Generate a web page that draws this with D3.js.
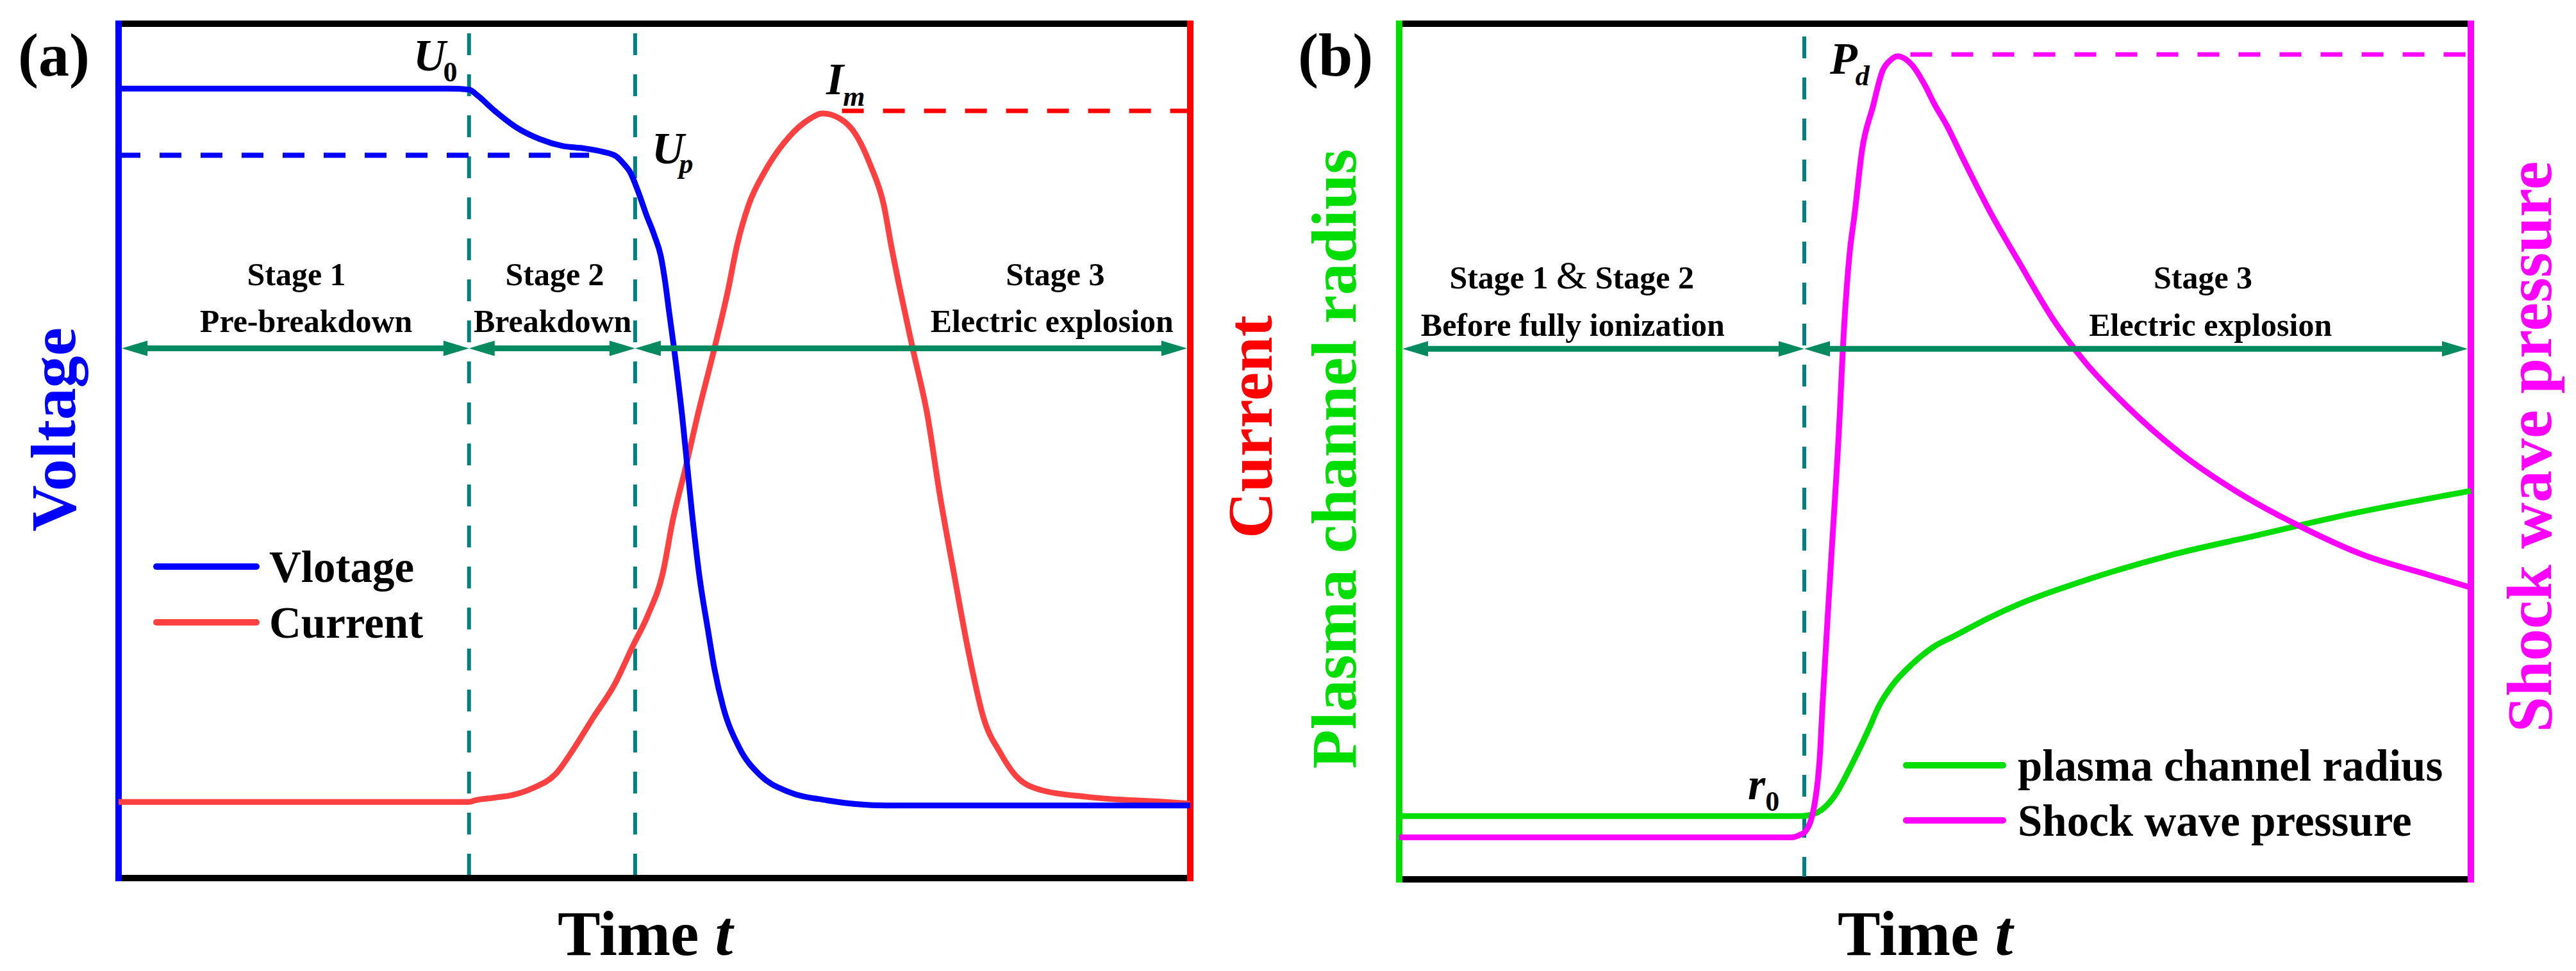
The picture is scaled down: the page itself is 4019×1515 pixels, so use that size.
<!DOCTYPE html>
<html><head><meta charset="utf-8">
<script src="https://cdn.jsdelivr.net/npm/d3@7"></script>
<style>html,body{margin:0;padding:0;background:#fff;} svg{display:block;font-family:"Liberation Serif","Times New Roman",serif;}</style>
</head><body><svg id="c" width="4019" height="1515"></svg>
<script>
// ---------- data (time and amplitude in arbitrary 0-100 units) ----------
const voltage = [[0,92.4],[30.8,92.4],[32.7,92.3],[33.4,91.7],[35.1,89.8],[37.2,87.8],[39.3,86.5],[41.4,85.7],[43.5,85.4],[45.2,85.0],[46.4,84.5],[47.2,83.5],[47.7,82.7],[48.5,80.3],[49.2,77.8],[50.0,75.2],[50.6,72.8],[51.0,69.8],[51.4,66.0],[51.8,62.3],[52.6,54.0],[53.5,42.8],[54.2,35.3],[55.0,29.0],[55.6,24.5],[56.4,20.1],[57.9,15.3],[59.9,12.0],[62.5,10.1],[66.1,9.1],[71.6,8.5],[100,8.5]];
const current = [[0,8.9],[32.7,8.9],[33.3,9.1],[35.0,9.4],[36.7,9.7],[38.6,10.5],[40.8,12.2],[42.5,15.2],[44.3,18.8],[46.3,22.7],[48.0,27.2],[49.4,30.8],[50.8,35.8],[51.7,41.8],[52.9,48.0],[54.0,54.0],[55.6,62.0],[56.9,69.0],[57.7,74.0],[58.8,78.8],[60.3,82.7],[62.6,86.8],[64.3,88.7],[65.7,89.5],[67.3,88.9],[68.7,87.2],[70.2,83.3],[71.4,78.8],[72.1,74.0],[72.9,69.0],[74.1,62.0],[75.5,54.0],[76.6,45.1],[78.0,35.3],[79.4,25.9],[80.7,18.8],[82.3,14.6],[83.7,12.0],[86.1,10.3],[90.4,9.5],[97.7,8.9],[100,8.7]];
const radius = [[0,7.4],[37.4,7.4],[38.8,7.7],[40.6,9.7],[42.3,13.6],[43.9,17.8],[44.7,20.1],[45.9,22.5],[47.9,25.2],[49.9,27.2],[51.9,28.5],[55.1,30.6],[57.9,32.2],[63.9,34.9],[72.0,37.9],[80.0,40.2],[88.0,42.5],[100,45.4]];
const pressure = [[0,4.9],[36.6,4.9],[37.4,5.2],[37.9,5.6],[38.8,9.1],[39.3,15.4],[39.5,20.4],[40.3,37.2],[41.1,54.1],[41.4,62.0],[42.0,72.8],[42.5,77.8],[43.2,85.3],[44.2,90.3],[45.1,94.5],[45.8,95.7],[46.5,96.2],[47.2,95.9],[47.9,95.1],[49.1,92.7],[49.9,90.7],[51.1,88.1],[52.7,84.0],[55.1,78.1],[57.9,72.0],[61.1,65.3],[63.9,60.6],[67.9,55.3],[72.7,50.0],[78.3,45.2],[84.0,41.3],[90.0,37.9],[96.0,35.6],[100,34.1]];

const boundsA = [0, 32.7, 48.2, 100];
const boundsB = [0, 37.8, 100];
const arrowLevel = 62.0;
const UpLevel = 84.6, UpEnd = 43.9;
const ImLevel = 89.8, ImStart = 67.5;
const PdLevel = 96.4, PdStart = 47.7;

const stageTitlesA = [["Stage 1",16.6],["Stage 2",40.7],["Stage 3",87.4]];
const stageNamesA  = [["Pre-breakdown",17.5],["Breakdown",40.5],["Electric explosion",87.1]];
const stageTitlesB = [["Stage 3",75.0]];
const stageNamesB  = [["Before fully ionization",16.2],["Electric explosion",75.7]];

const legendA = [["Vlotage","#0000FF"],["Current","#FF4040"]];
const legendB = [["plasma channel radius","#00DD00"],["Shock wave pressure","#FF00FF"]];

// ---------- drawing ----------
const svg = d3.select("#c");
const F = '"Liberation Serif","Times New Roman",serif';
const TEAL = "#008080", ARROW = "#008A5E";

const xA = d3.scaleLinear().domain([0,100]).range([185,1857]);
const yA = d3.scaleLinear().domain([0,100]).range([1370,37]);
const xB = d3.scaleLinear().domain([0,100]).range([2183,3855]);
const yB = d3.scaleLinear().domain([0,100]).range([1372,37]);

function frame(x, y, leftColor, rightColor){
  const [x0,x1] = x.range(), [y1,y0] = y.range();
  svg.append("line").attr("x1",x0-5).attr("x2",x1+5).attr("y1",y0).attr("y2",y0).attr("stroke","#000").attr("stroke-width",10);
  svg.append("line").attr("x1",x0-5).attr("x2",x1+5).attr("y1",y1).attr("y2",y1).attr("stroke","#000").attr("stroke-width",10);
  svg.append("line").attr("x1",x0).attr("x2",x0).attr("y1",y0-5).attr("y2",y1+5).attr("stroke",leftColor).attr("stroke-width",10);
  svg.append("line").attr("x1",x1).attr("x2",x1).attr("y1",y0-5).attr("y2",y1+5).attr("stroke",rightColor).attr("stroke-width",10);
}
function vdash(x, y, t, top, bottom){
  svg.append("line").attr("x1",x(t)).attr("x2",x(t)).attr("y1",top).attr("y2",bottom)
    .attr("stroke",TEAL).attr("stroke-width",6).attr("stroke-dasharray","34 30");
}
function hdash(x, y, t0, t1, v, color, w){
  svg.append("line").attr("x1",x(t0)).attr("x2",x(t1)).attr("y1",y(v)).attr("y2",y(v))
    .attr("stroke",color).attr("stroke-width",w).attr("stroke-dasharray","34 30");
}
function curve(x, y, data, color, w){
  const line = d3.line().x(d=>x(d[0])).y(d=>y(d[1])).curve(d3.curveMonotoneX);
  svg.append("path").attr("d",line(data)).attr("fill","none").attr("stroke",color)
    .attr("stroke-width",w).attr("stroke-linejoin","round");
}
function arrows(x, y, bounds){
  const yy = y(arrowLevel), L = 40, W = 12;
  for(let i=0;i<bounds.length-1;i++){
    let a = x(bounds[i]), b = x(bounds[i+1]);
    if(i===0) a += 5;
    if(i===bounds.length-2) b -= 5;
    svg.append("line").attr("x1",a+L-4).attr("x2",b-L+4).attr("y1",yy).attr("y2",yy).attr("stroke",ARROW).attr("stroke-width",9);
    svg.append("path").attr("d",`M${a},${yy}L${a+L},${yy-W}L${a+L},${yy+W}Z`).attr("fill",ARROW);
    svg.append("path").attr("d",`M${b},${yy}L${b-L},${yy-W}L${b-L},${yy+W}Z`).attr("fill",ARROW);
  }
}
function txt(x, y, s, opts){
  const t = svg.append("text").attr("x",x).attr("y",y).text(s)
    .attr("font-family",F).attr("font-weight",opts.w||"bold").attr("font-size",opts.size)
    .attr("fill",opts.fill||"#000").attr("text-anchor",opts.anchor||"start");
  if(opts.italic) t.attr("font-style","italic");
  return t;
}
function vtxt(bx, cy, s, color){
  svg.append("text").attr("transform",`translate(${bx},${cy}) rotate(-90)`).text(s)
    .attr("font-family",F).attr("font-weight","bold").attr("font-size",100)
    .attr("fill",color).attr("text-anchor","middle");
}
function sym(x0, y0, main, sub, dx, dy){
  const t = txt(x0, y0, main, {size:70, italic:true});
  t.append("tspan").attr("dx",dx).attr("dy",dy).attr("font-size",44)
    .attr("font-style", isNaN(+sub) ? "italic" : "normal").text(sub);
}

// ---- panel (a) ----
frame(xA, yA, "#0000FF", "#FF0000");
boundsA.slice(1,-1).forEach(t=>vdash(xA,yA,t,52,1365));
hdash(xA,yA,0,UpEnd,UpLevel,"#0000FF",8);
hdash(xA,yA,ImStart,100,ImLevel,"#FF0000",7);
curve(xA,yA,current,"#FF4040",9);
curve(xA,yA,voltage,"#0000FF",9);
arrows(xA,yA,boundsA);
stageTitlesA.forEach(d=>txt(xA(d[1]),445,d[0],{size:50,anchor:"middle"}));
stageNamesA.forEach(d=>txt(xA(d[1]),518,d[0],{size:50,anchor:"middle"}));
sym(645,110,"U","0",-4,17);
sym(1017,255,"U","p",-8,15);
sym(1289,147,"I","m",-1,18);
txt(28,118,"(a)",{size:96});
legendA.forEach((d,i)=>{
  const yy = 884 + i*87;
  svg.append("line").attr("x1",244).attr("x2",400).attr("y1",yy).attr("y2",yy).attr("stroke",d[1]).attr("stroke-width",10).attr("stroke-linecap","round");
  txt(420, yy+24, d[0], {size:69});
});
vtxt(117,670,"Voltage","#0000FF");
vtxt(1984,666,"Current","#FF0000");
{ const t = txt(870,1490,"Time ",{size:100}); t.append("tspan").attr("font-style","italic").text("t"); }

// ---- panel (b) ----
frame(xB, yB, "#00DD00", "#FF00FF");
boundsB.slice(1,-1).forEach(t=>vdash(xB,yB,t,57,1368));
hdash(xB,yB,PdStart,100,PdLevel,"#FF00FF",7);
curve(xB,yB,radius,"#00DD00",9);
curve(xB,yB,pressure,"#FF00FF",9);
arrows(xB,yB,boundsB);
{ const t = txt(xB(16.1),450,"Stage 1 ",{size:50,anchor:"middle"});
  t.append("tspan").attr("font-weight","normal").attr("font-size",62).text("&");
  t.append("tspan").text(" Stage 2"); }
stageTitlesB.forEach(d=>txt(xB(d[1]),450,d[0],{size:50,anchor:"middle"}));
stageNamesB.forEach(d=>txt(xB(d[1]),524,d[0],{size:50,anchor:"middle"}));
sym(2855,115,"P","d",-3,18);
sym(2727,1247,"r","0",0,18);
txt(2025,118,"(b)",{size:96});
legendB.forEach((d,i)=>{
  const yy = 1194 + i*86;
  svg.append("line").attr("x1",2974).attr("x2",3125).attr("y1",yy).attr("y2",yy).attr("stroke",d[1]).attr("stroke-width",10).attr("stroke-linecap","round");
  txt(3148, yy+24, d[0], {size:69});
});
vtxt(2115,716,"Plasma channel radius","#00DD00");
vtxt(3980,697,"Shock wave pressure","#FF00FF");
{ const t = txt(2867,1490,"Time ",{size:100}); t.append("tspan").attr("font-style","italic").text("t"); }
</script></body></html>
